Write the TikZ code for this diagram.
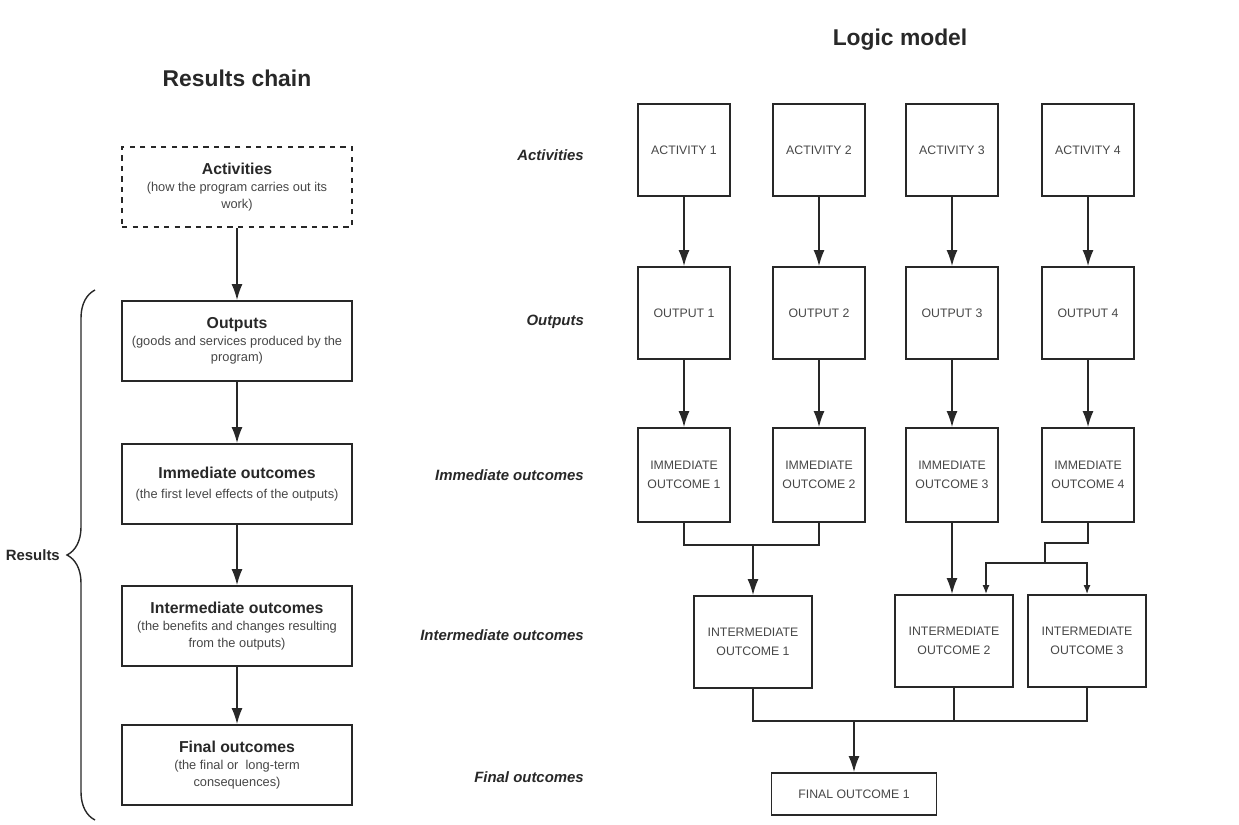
\documentclass[tikz,border=0pt]{standalone}
\usepackage{fontspec}
\setmainfont{Liberation Sans}
\usepackage{tikz}
\usetikzlibrary{arrows.meta,positioning,decorations.pathreplacing,calc}
\definecolor{grisOscuro}{RGB}{40, 40, 40}
\definecolor{grisTexto}{RGB}{70, 70, 70}
\tikzstyle{edge}  =[line width=0.8pt, grisOscuro]
\tikzstyle{flecha}=[line width=0.8pt, grisOscuro,
                    -{Latex[length=3.2mm,width=2.2mm]}]
\tikzstyle{flechita}=[line width=0.8pt, grisOscuro,
                    -{Latex[length=1.8mm,width=1.4mm]}]
\tikzstyle{cadena}=[draw=grisOscuro, line width=1.1pt,
                    minimum width=4.6cm, minimum height=1.6cm,
                    align=center, inner sep=2pt, text=grisTexto,
                    font=\fontsize{7.3}{9.5}\selectfont]
\tikzstyle{caja}  =[draw=grisOscuro, line width=1.1pt,
                    minimum width=1.84cm, minimum height=1.84cm,
                    align=center, inner sep=1pt, text=grisTexto,
                    font=\fontsize{7}{11}\selectfont]
\tikzstyle{fila}  =[anchor=east, text=grisOscuro,
                    font=\fontsize{8.5}{10}\selectfont\bfseries\itshape]
\tikzstyle{titulo}=[text=grisOscuro,
                    font=\fontsize{13}{15}\selectfont\bfseries]
\newcommand{\cabeza}[1]{{\fontsize{9}{11}\selectfont\bfseries\color{grisOscuro}#1}}

\begin{document}
\begin{tikzpicture}[x=0.02cm,y=-0.02cm]
    \useasboundingbox (0,0) rectangle (1239,824);

        % results chain
        \begin{scope}
            \draw (237,78) node (tcad) [titulo] {Results chain};
            \draw (237,187) node (act) [cadena, dashed] {\cabeza{Activities}\\(how the program carries out its\\work)};
            \draw (237,341) node (out) [cadena] {\cabeza{Outputs}\\(goods and services produced by the\\program)};
            \draw (237,484) node (imm) [cadena] {\cabeza{Immediate outcomes}\\[2pt](the first level effects of the outputs)};
            \draw (237,626) node (int) [cadena] {\cabeza{Intermediate outcomes}\\(the benefits and changes resulting\\from the outputs)};
            \draw (237,765) node (fin) [cadena] {\cabeza{Final outcomes}\\(the final or\ \ long-term\\consequences)};

            \foreach \i/\j in {act/out,out/imm,imm/int,int/fin}
                \draw [flecha] (\i) to (\j);

            \draw [edge, decorate, decoration={brace, amplitude=0.56cm}] (95,820) -- (95,290)
                coordinate[pos=0.5] (pico);
            \draw (66,555) node (res) [anchor=east, text=grisOscuro, font=\fontsize{8.5}{10}\selectfont\bfseries] {Results};
        \end{scope}

        % logic model
        \begin{scope}
            \draw (900,40) node (tlog) [titulo] {Logic model};
            \draw (590,155) node (fa) [fila] {Activities};
            \draw (590,322) node (fo) [fila] {Outputs};
            \draw (590,475) node (fm) [fila] {Immediate outcomes};
            \draw (590,635) node (fi) [fila] {Intermediate outcomes};
            \draw (590,777) node (ff) [fila] {Final outcomes};

            \foreach \i/\x in {1/684,2/819,3/952,4/1088} {
                \draw (\x,150) node (a\i) [caja] {ACTIVITY \i};
                \draw (\x,313) node (o\i) [caja] {OUTPUT \i};
                \draw (\x,475) node (m\i) [caja, minimum height=1.88cm] {IMMEDIATE\\OUTCOME \i};
                \draw [flecha] (a\i) to (o\i);
                \draw [flecha] (o\i) to (m\i);
            }

            \draw (753,642) node (i1) [caja, minimum width=2.36cm] {INTERMEDIATE\\OUTCOME 1};
            \draw (954,641) node (i2) [caja, minimum width=2.36cm] {INTERMEDIATE\\OUTCOME 2};
            \draw (1087,641) node (i3) [caja, minimum width=2.36cm] {INTERMEDIATE\\OUTCOME 3};
            \draw (854,794) node (f1) [caja, minimum width=3.3cm, minimum height=0.84cm] {FINAL OUTCOME 1};

            % immediate to intermediate
            \coordinate (j1) at (753,545);
            \draw [edge] (m1.south) |- (j1) -| (m2.south);
            \draw [flecha] (j1) -- (i1.north);
            \draw [flecha] (m3.south) -- (m3.south |- i2.north);
            \coordinate (j2) at (1045,543);
            \coordinate (j3) at (1045,563);
            \draw [edge] (m4.south) |- (j2) -- (j3);
            \draw [flechita] (j3) -| ([xshift=0.64cm]i2.north);
            \draw [flechita] (j3) -| (i3.north);

            % intermediate to final
            \coordinate (j4) at (854,721);
            \draw [edge] (i1.south) |- (i3.south |- j4) -- (i3.south);
            \draw [edge] (i2.south) -- (i2.south |- j4);
            \draw [flecha] (j4) -- (f1.north);
        \end{scope}

    \end{tikzpicture}
\end{document}
